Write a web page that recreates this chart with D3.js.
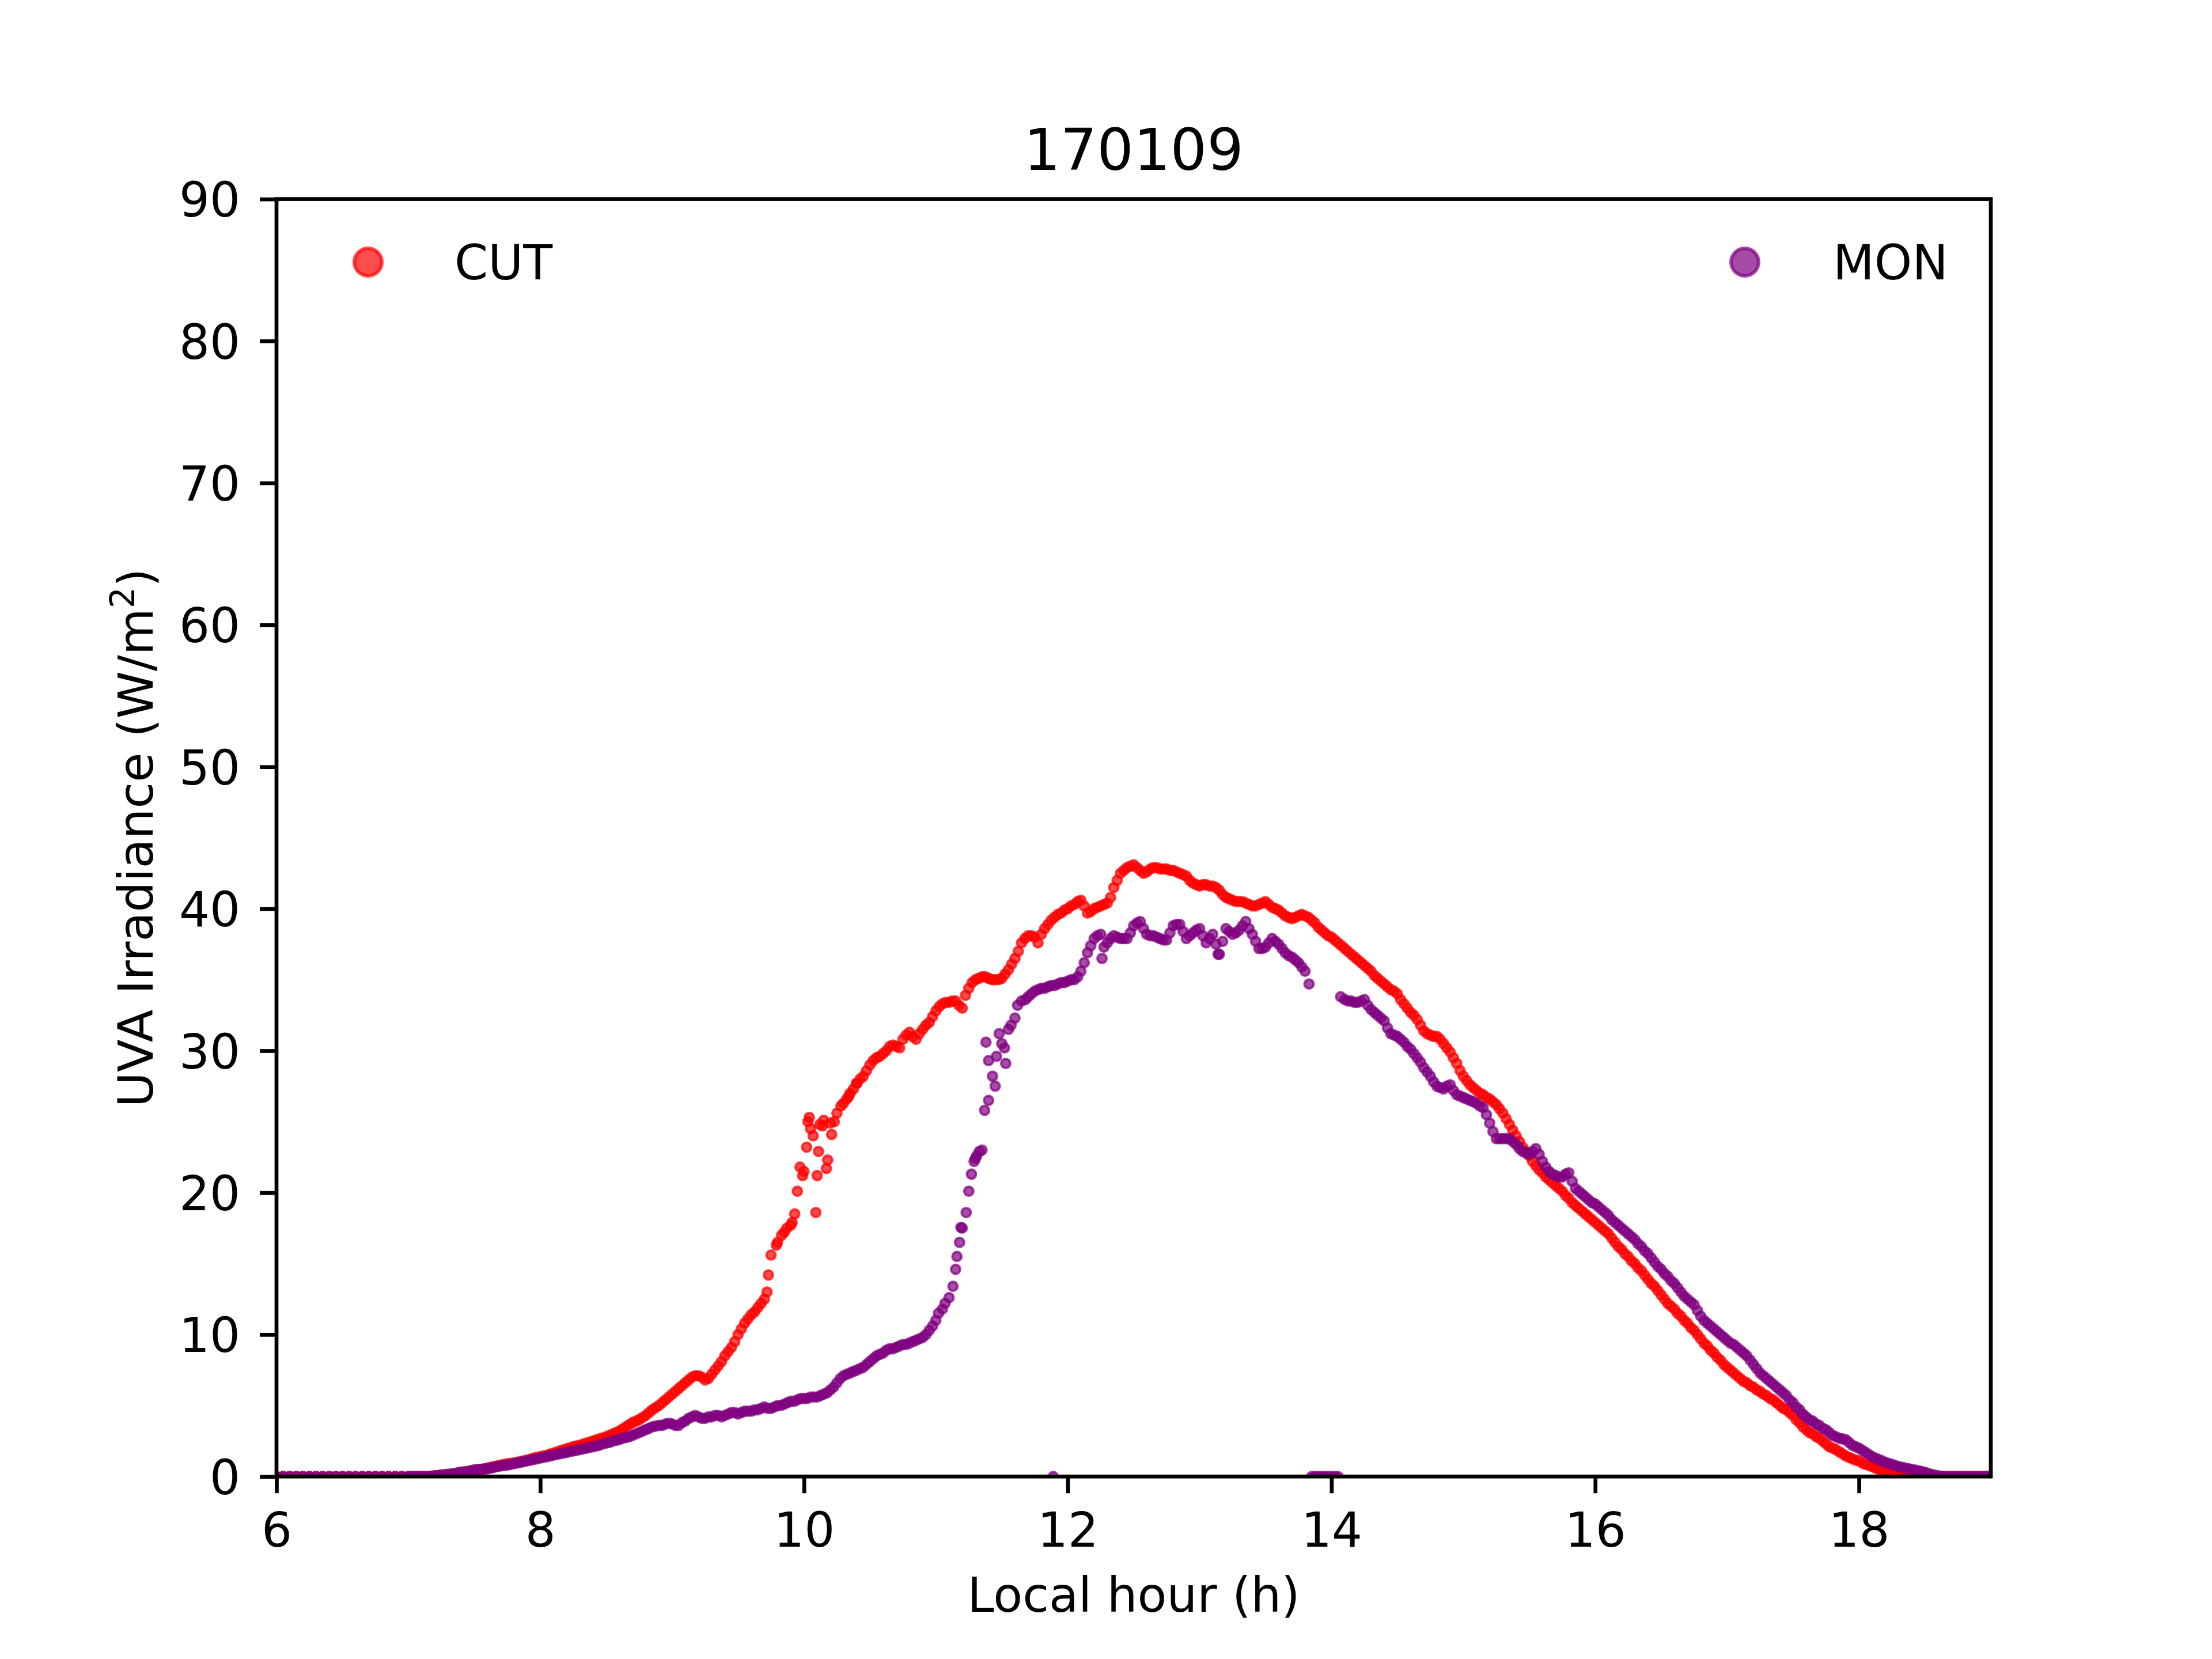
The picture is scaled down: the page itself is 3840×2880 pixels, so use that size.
<!DOCTYPE html>
<html>
<head>
<meta charset="utf-8">
<script src="https://cdn.jsdelivr.net/npm/d3@7"></script>
<style>
  body { margin: 0; background: #fff; }
</style>
</head>
<body>
<svg id="chart"></svg>
<script>
// main sampling grid: every 0.05 h from 6.00 to 19.00
const hourStart = 6;
const hourStep = 0.05;
// in-between readings: every 0.05 h from 7.025 to 18.975 (null = no reading used)
const midStart = 7.025;

// CUT, one row per hour (20 samples each)
const cutValues = [
  0,0,0,0,0,0,0,0,0,0,0,0,0,0,0,0,0,0,0,0,
  0,0,0,0,0.05,0.1,0.15,0.2,0.3,0.35,0.45,0.5,0.6,0.7,0.8,0.9,0.95,1.05,1.15,1.3,
  1.4,1.5,1.65,1.8,1.95,2.1,2.2,2.35,2.5,2.65,2.8,3.0,3.2,3.5,3.8,4.0,4.3,4.7,5.0,5.4,
  5.8,6.2,6.6,7.0,7.1,6.8,7.2,7.8,8.5,9.1,10.0,10.8,11.4,11.9,12.5,15.6,16.5,17.2,17.7,20.1,
  21.5,24.5,21.2,25.1,24.9,25.6,26.3,27.0,27.7,28.2,29.0,29.5,29.8,30.3,30.3,30.8,31.3,30.8,31.5,32.0,
  32.8,33.3,33.4,33.5,33.0,34.4,35.0,35.2,35.1,35.0,35.1,35.7,36.5,37.6,38.1,38.0,38.2,38.9,39.4,39.7,
  40.0,40.3,40.6,39.7,40.0,40.2,40.4,41.5,42.5,42.9,43.1,42.7,42.6,42.9,42.8,42.8,42.7,42.5,42.3,41.8,
  41.6,41.7,41.6,41.3,40.8,40.6,40.5,40.4,40.2,40.3,40.5,40.1,39.9,39.5,39.3,39.5,39.5,39.2,38.7,38.3,
  38.0,37.6,37.2,36.8,36.4,36.0,35.6,35.1,34.7,34.3,34.0,33.3,32.7,32.2,31.4,31.1,31.0,30.5,29.9,29.1,
  28.2,27.6,27.2,26.9,26.6,26.2,25.6,24.8,24.0,23.2,22.6,21.9,21.4,20.9,20.5,20.1,19.6,19.1,18.7,18.3,
  17.9,17.5,17.1,16.5,16.0,15.5,15.0,14.5,13.9,13.4,12.8,12.2,11.8,11.3,10.8,10.3,9.7,9.2,8.7,8.2,
  7.7,7.3,6.9,6.6,6.3,6.0,5.7,5.4,5.0,4.7,4.3,3.8,3.3,3.0,2.7,2.3,2.0,1.75,1.45,1.25,
  1.1,0.85,0.7,0.5,0.4,0.3,0.2,0.1,0.05,0,0,0,0,0,0,0,0,0,0,0,
  0
];
const cutMidValues = [
  0,0,0,0.02,0.07,0.12,0.17,0.25,0.32,0.4,0.48,0.55,0.65,0.75,0.85,0.92,1.0,1.1,1.22,1.35,
  1.45,1.58,1.72,1.88,2.02,2.15,2.28,2.42,2.58,2.72,2.9,3.1,3.35,3.65,3.9,4.15,4.5,4.85,5.2,5.6,
  6.0,6.4,6.8,7.1,7.0,6.9,7.5,8.1,8.8,9.5,10.4,11.1,11.6,12.2,null,null,null,null,null,null,
  null,null,null,null,null,null,26.6,27.3,28.0,28.6,29.3,29.6,30.0,30.4,30.2,31.1,31.0,31.2,31.8,32.4,
  33.1,33.4,33.5,33.2,33.9,34.8,35.1,35.2,35.0,35.0,35.4,36.1,37.0,37.9,38.1,37.6,38.6,39.2,39.6,39.9,
  40.2,40.5,40.2,39.8,40.1,40.3,40.8,42.0,42.7,43.0,42.9,42.5,42.8,42.9,42.8,42.7,42.6,42.4,42.0,41.7,
  41.7,41.6,41.5,41.0,40.7,40.5,40.5,40.3,40.2,40.4,40.3,40.0,39.7,39.4,39.4,39.6,39.4,39.0,38.5,38.1,
  37.8,37.4,37.0,36.6,36.2,35.8,35.3,34.9,34.5,34.2,33.6,33.0,32.5,31.8,31.2,31.0,30.8,30.2,29.5,28.6,
  27.9,27.4,27.0,26.7,26.4,25.9,25.2,24.4,23.6,22.9,22.2,21.6,21.1,20.7,20.3,19.8,19.3,18.9,18.5,18.1,
  17.7,17.3,16.8,16.2,15.7,15.2,14.7,14.2,13.6,13.1,12.5,12.0,11.5,11.0,10.5,10.0,9.4,8.9,8.4,7.9,
  7.5,7.1,6.7,6.4,6.1,5.8,5.5,5.2,4.8,4.5,4.0,3.5,3.1,2.8,2.5,2.1,1.9,1.6,1.35,1.15,
  0.95,0.78,0.6,0.45,0.35,0.25,0.15,0.07,0.02,0,0,0,0,0,0,0,0,0,0,0
];

// MON, same grids
const monValues = [
  0,0,0,0,0,0,0,0,0,0,0,0,0,0,0,0,0,0,0,0,
  0,0,0,0,0.05,0.1,0.15,0.2,0.3,0.35,0.45,0.5,0.55,0.65,0.75,0.8,0.9,1.0,1.1,1.2,
  1.3,1.4,1.5,1.6,1.7,1.8,1.9,2.0,2.1,2.2,2.35,2.5,2.6,2.75,2.9,3.1,3.3,3.5,3.6,3.7,
  3.7,3.6,3.9,4.2,4.2,4.1,4.2,4.3,4.3,4.5,4.4,4.6,4.6,4.7,4.9,4.8,5.0,5.1,5.3,5.4,
  5.5,5.6,5.6,5.8,6.1,6.6,7.1,7.3,7.5,7.7,8.1,8.5,8.7,9.0,9.1,9.3,9.4,9.6,9.8,10.3,
  11.0,11.8,12.6,14.6,17.5,20.1,22.4,23.0,26.5,27.5,30.5,31.5,32.3,33.5,33.8,34.2,34.4,34.5,34.6,34.8,
  34.9,35.0,35.6,36.9,37.9,38.2,37.6,38.1,37.9,37.9,38.8,39.1,38.2,38.1,37.9,37.8,38.8,38.9,37.9,38.3,
  38.6,37.6,38.2,36.8,38.6,38.2,38.5,39.1,38.2,37.2,37.3,37.9,37.5,36.9,36.6,36.2,35.6,0,0,0,
  0,0,33.6,33.5,33.4,33.6,32.9,32.5,32.1,31.2,31.0,30.6,30.1,29.5,28.8,28.2,27.5,27.3,27.6,26.9,
  26.7,26.5,26.3,26.0,24.9,23.8,23.8,23.8,23.4,22.9,22.7,23.1,22.2,21.5,21.2,21.1,21.4,20.3,19.9,19.5,
  19.2,18.8,18.4,17.9,17.5,17.1,16.7,16.2,15.7,15.1,14.6,14.1,13.6,13.0,12.5,12.1,11.3,10.8,10.4,10.0,
  9.6,9.3,8.9,8.5,7.9,7.3,6.9,6.5,6.1,5.7,5.2,4.7,4.2,3.9,3.6,3.3,2.9,2.7,2.6,2.2,
  2.0,1.7,1.4,1.2,1.0,0.85,0.7,0.6,0.5,0.4,0.3,0.15,0.05,0,0,0,0,0,0,0,
  0
];
const monMidValues = [
  0,0,0,0.02,0.07,0.12,0.17,0.25,0.32,0.4,0.48,0.52,0.6,0.7,0.78,0.85,0.95,1.05,1.15,1.25,
  1.35,1.45,1.55,1.65,1.75,1.85,1.95,2.05,2.15,2.3,2.4,2.55,2.7,2.8,3.0,3.2,3.4,3.55,3.6,3.75,
  3.6,3.8,4.1,4.3,4.1,4.2,4.3,4.2,4.4,4.5,4.5,4.6,4.7,4.8,4.8,4.9,5.0,5.2,5.3,5.5,
  5.5,5.6,5.7,5.9,6.3,6.9,7.2,7.4,7.6,7.9,8.3,8.6,8.9,9.0,9.2,9.3,9.5,9.7,10.0,10.6,
  null,null,null,null,null,null,null,null,null,null,null,null,null,null,34.0,34.3,34.4,34.6,34.7,34.8,
  35.0,35.2,36.2,37.4,38.1,37.3,37.9,38.0,37.9,38.3,39.0,38.6,38.1,38.0,37.8,38.3,38.9,38.4,38.1,38.5,
  38.1,37.9,37.5,37.7,38.4,38.3,38.8,38.6,37.7,37.2,37.6,37.7,37.2,36.7,36.4,35.9,null,0,0,0,
  0,null,33.5,33.4,33.5,33.2,32.7,32.3,31.6,31.1,30.8,30.3,29.8,29.2,28.5,27.8,27.4,27.5,27.2,26.8,
  26.6,26.4,26.1,25.5,24.3,23.8,23.8,23.6,23.1,22.8,22.9,22.7,21.8,21.3,21.1,21.3,20.8,20.1,19.7,19.3,
  19.0,18.6,18.1,17.7,17.3,16.9,16.4,15.9,15.4,14.8,14.3,13.8,13.3,12.7,12.3,11.7,11.0,10.6,10.2,9.8,
  9.4,9.1,8.7,8.2,7.6,7.1,6.7,6.3,5.9,5.4,4.9,4.4,4.0,3.7,3.4,3.1,2.8,2.65,2.4,2.1,
  1.85,1.55,1.3,1.1,0.92,0.78,0.65,0.55,0.45,0.35,0.22,0.1,0.02,0,0,0,0,0,0,0
];

// extra readings where the record jumps quickly
const cutExtraHours = [9.72,9.73,9.79,9.83,9.87,9.93,9.97,9.99,10.02,10.03,10.07,10.09,
  10.11,10.14,10.17,10.18,10.21,10.28,10.34,10.40,9.91,10.04,10.12,10.23];
const cutExtraValues = [13.0,14.2,16.3,17.0,17.5,18.5,21.8,21.2,23.2,25.0,24.0,18.6,
  22.9,24.7,21.7,22.3,24.1,26.1,26.8,27.7,17.9,25.3,24.8,25.0];

const monExtraHours = [11.02,11.07,11.13,11.16,11.18,11.19,11.23,11.27,11.29,11.31,11.33,11.37,
  11.38,11.40,11.43,11.46,11.48,11.52,11.53,11.57,11.62,11.68,11.89,12.26,13.14,13.83,14.07];
const monExtraValues = [11.5,12.2,13.4,15.5,16.5,17.55,18.6,21.3,22.2,22.6,22.9,25.8,
  30.6,29.3,28.2,29.6,31.2,30.2,29.1,31.8,33.2,33.6,0,36.5,36.8,34.7,33.8];

const xTicks = [6, 8, 10, 12, 14, 16, 18];
const yTicks = [0, 10, 20, 30, 40, 50, 60, 70, 80, 90];
const seriesNames = ["CUT", "MON"];
const seriesColors = ["red", "purple"];

const width = 3840;
const height = 2880;
const margin = { top: 345.6, right: 384, bottom: 316.8, left: 480 };
const font = "'DejaVu Sans', sans-serif";
const lw = 6.7;

const x = d3.scaleLinear().domain([6, 19]).range([margin.left, width - margin.right]);
const y = d3.scaleLinear().domain([0, 90]).range([height - margin.bottom, margin.top]);

function toPoints(values, midValues, extraHours, extraValues) {
  const pts = values.map((v, i) => ({ h: hourStart + i * hourStep, v }));
  midValues.forEach((v, i) => pts.push({ h: midStart + i * hourStep, v }));
  extraHours.forEach((h, i) => pts.push({ h, v: extraValues[i] }));
  return pts.filter(d => d.v !== null).sort((a, b) => a.h - b.h);
}
const series = [
  toPoints(cutValues, cutMidValues, cutExtraHours, cutExtraValues),
  toPoints(monValues, monMidValues, monExtraHours, monExtraValues),
];

const svg = d3.select("#chart")
  .attr("width", width)
  .attr("height", height)
  .style("background", "#fff");

svg.append("defs").append("clipPath").attr("id", "plotClip")
  .append("rect")
  .attr("x", margin.left).attr("y", margin.top)
  .attr("width", width - margin.left - margin.right)
  .attr("height", height - margin.top - margin.bottom);

// points
const plot = svg.append("g").attr("clip-path", "url(#plotClip)");
series.forEach((pts, k) => {
  plot.append("g")
    .selectAll("circle")
    .data(pts)
    .join("circle")
    .attr("cx", d => x(d.h))
    .attr("cy", d => y(d.v))
    .attr("r", 8)
    .attr("fill", seriesColors[k])
    .attr("fill-opacity", 0.7)
    .attr("stroke", seriesColors[k])
    .attr("stroke-opacity", 0.7)
    .attr("stroke-width", 4);
});

// axes
const gx = svg.append("g")
  .attr("transform", `translate(0,${height - margin.bottom})`)
  .call(d3.axisBottom(x).tickValues(xTicks).tickSize(29).tickSizeOuter(0).tickPadding(34)
    .tickFormat(d3.format("d")));
const gy = svg.append("g")
  .attr("transform", `translate(${margin.left},0)`)
  .call(d3.axisLeft(y).tickValues(yTicks).tickSize(29).tickSizeOuter(0).tickPadding(34)
    .tickFormat(d3.format("d")));
[gx, gy].forEach(g => {
  g.select(".domain").remove();
  g.attr("font-family", font).attr("font-size", 83.3);
  g.selectAll(".tick line").attr("stroke", "#000").attr("stroke-width", lw);
  g.selectAll(".tick text").attr("fill", "#000");
});
gy.selectAll(".tick text").attr("dy", "0.36em");

// frame
svg.append("rect")
  .attr("x", margin.left).attr("y", margin.top)
  .attr("width", width - margin.left - margin.right)
  .attr("height", height - margin.top - margin.bottom)
  .attr("fill", "none")
  .attr("stroke", "#000")
  .attr("stroke-width", lw);

// title and labels
svg.append("text")
  .attr("x", (margin.left + width - margin.right) / 2)
  .attr("y", 295)
  .attr("text-anchor", "middle")
  .attr("font-family", font)
  .attr("font-size", 100)
  .text("170109");

svg.append("text")
  .attr("x", (margin.left + width - margin.right) / 2)
  .attr("y", 2798)
  .attr("text-anchor", "middle")
  .attr("font-family", font)
  .attr("font-size", 83.3)
  .text("Local hour (h)");

const ylab = svg.append("text")
  .attr("transform", `translate(265,${(margin.top + height - margin.bottom) / 2}) rotate(-90)`)
  .attr("text-anchor", "middle")
  .attr("font-family", font)
  .attr("font-size", 83.3);
ylab.append("tspan").text("UVA Irradiance (W/m");
ylab.append("tspan").attr("font-size", 58).attr("dy", -32).text("2");
ylab.append("tspan").attr("dy", 32).text(")");

// legends, one in each upper corner
const legendPos = [
  { cx: 639, tx: 789 },
  { cx: 3029, tx: 3182 },
];
seriesNames.forEach((name, k) => {
  const lg = svg.append("g");
  lg.append("circle")
    .attr("cx", legendPos[k].cx)
    .attr("cy", 455)
    .attr("r", 24)
    .attr("fill", seriesColors[k])
    .attr("fill-opacity", 0.7)
    .attr("stroke", seriesColors[k])
    .attr("stroke-opacity", 0.7)
    .attr("stroke-width", 6);
  lg.append("text")
    .attr("x", legendPos[k].tx)
    .attr("y", 485)
    .attr("font-family", font)
    .attr("font-size", 83.3)
    .text(name);
});
</script>
</body>
</html>
